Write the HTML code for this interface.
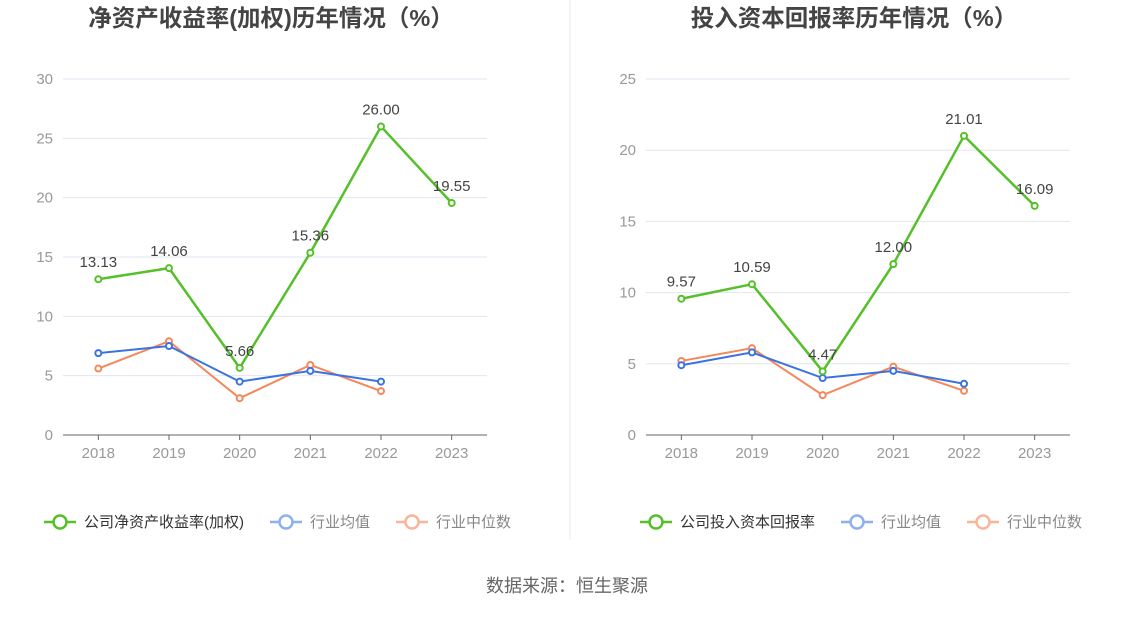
<!DOCTYPE html>
<html><head><meta charset="utf-8">
<style>
body{margin:0;background:#fff;}
svg text{font-family:"Liberation Sans","Noto Sans CJK SC",sans-serif;}
</style></head>
<body>
<svg id="c" width="1134" height="612" viewBox="0 0 1134 612" xmlns="http://www.w3.org/2000/svg">
<line x1="570" y1="0" x2="570" y2="540" stroke="#e8e8e8"/>
<text x="567" y="592" text-anchor="middle" font-size="18" fill="#666">数据来源：恒生聚源</text>
</svg>
<script>
const years=["2018","2019","2020","2021","2022","2023"];
const roeCompany=[13.13,14.06,5.66,15.36,26.00,19.55];
const roeAvg=[6.9,7.5,4.5,5.4,4.5];
const roeMedian=[5.6,7.9,3.1,5.9,3.7];
const roeTicks=[0,5,10,15,20,25,30];
const roicCompany=[9.57,10.59,4.47,12.00,21.01,16.09];
const roicAvg=[4.9,5.8,4.0,4.5,3.6];
const roicMedian=[5.2,6.1,2.8,4.8,3.1];
const roicTicks=[0,5,10,15,20,25];

const NS="http://www.w3.org/2000/svg";
const svg=document.getElementById('c');
function mk(tag,attrs,parent){const e=document.createElementNS(NS,tag);for(const k in attrs)e.setAttribute(k,attrs[k]);(parent||svg).appendChild(e);return e;}

function panel(cfg){
  const g=mk('g',{});
  
  
  const x0=cfg.x0,x1=cfg.x0+424,yb=435,yt=79;
  const maxT=cfg.ticks[cfg.ticks.length-1];
  const ys=v=>yb-(v/maxT)*(yb-yt);
  const bw=(x1-x0)/years.length;
  const xs=i=>x0+bw*(i+0.5);
  const t=mk('text',{x:(x0+x1)/2-4,y:26,'text-anchor':'middle','font-size':23.5,'font-weight':'bold',fill:'#444'},g);
  t.textContent=cfg.title;
  
  
  cfg.ticks.forEach(v=>{
    if(v>0){const l=mk('line',{x1:x0,x2:x1,y1:ys(v),y2:ys(v),stroke:'#e3e6ef'},g);
    
    }
    const tt=mk('text',{x:x0-10,y:ys(v)+5,'text-anchor':'end','font-size':15,fill:'#999'},g);
    tt.textContent=v;
    
    
  });
  const ax=mk('line',{x1:x0,x2:x1,y1:yb,y2:yb,stroke:'#666'},g);
  
  
  years.forEach((y,i)=>{
    const tk=mk('line',{x1:xs(i),x2:xs(i),y1:yb,y2:yb+5,stroke:'#666'},g);
    
    
    const tt=mk('text',{x:xs(i),y:458,'text-anchor':'middle','font-size':15,fill:'#999'},g);
    tt.textContent=y;
    
    
  });
  const series=[[cfg.median,'#f5875b','median'],[cfg.avg,'#3a73e0','average'],[cfg.company,'#55c02a','company']];
  series.forEach(([d,c,n])=>{
    const p=mk('polyline',{points:d.map((v,i)=>xs(i)+','+ys(v)).join(' '),fill:'none',stroke:c,'stroke-width':n==='company'?2.5:2},g);
    
    
    d.forEach((v,i)=>{
      const ci=mk('circle',{cx:xs(i),cy:ys(v),r:3,fill:'#fff',stroke:c,'stroke-width':2},g);
      
      
    });
  });
  cfg.company.forEach((v,i)=>{
    const tt=mk('text',{x:xs(i),y:ys(v)-12,'text-anchor':'middle','font-size':15,fill:'#444'},g);
    tt.textContent=v.toFixed(2);
    
    
  });
  let lx=cfg.legendX;
  [[cfg.legend,'#55c02a'],['行业均值','#8fb0ee'],['行业中位数','#f9b59a']].forEach(([lab,c],k)=>{
    const lg=mk('g',{},g);
    
    
    mk('line',{x1:lx,x2:lx+32,y1:522,y2:522,stroke:c,'stroke-width':2.5},lg);
    mk('circle',{cx:lx+16,cy:522,r:6.5,fill:'#fff',stroke:c,'stroke-width':2.5},lg);
    const tt=mk('text',{x:lx+40,y:527,'font-size':15,fill:k===0?'#333':'#888'},lg);
    tt.textContent=lab;
    lx+=40+tt.getComputedTextLength()+26;
  });
}
panel({name:'roe-chart',x0:63,title:'净资产收益率(加权)历年情况（%）',ticks:roeTicks,company:roeCompany,avg:roeAvg,median:roeMedian,legend:'公司净资产收益率(加权)',legendX:44});
panel({name:'roic-chart',x0:646,title:'投入资本回报率历年情况（%）',ticks:roicTicks,company:roicCompany,avg:roicAvg,median:roicMedian,legend:'公司投入资本回报率',legendX:640});
</script>
</body></html>
